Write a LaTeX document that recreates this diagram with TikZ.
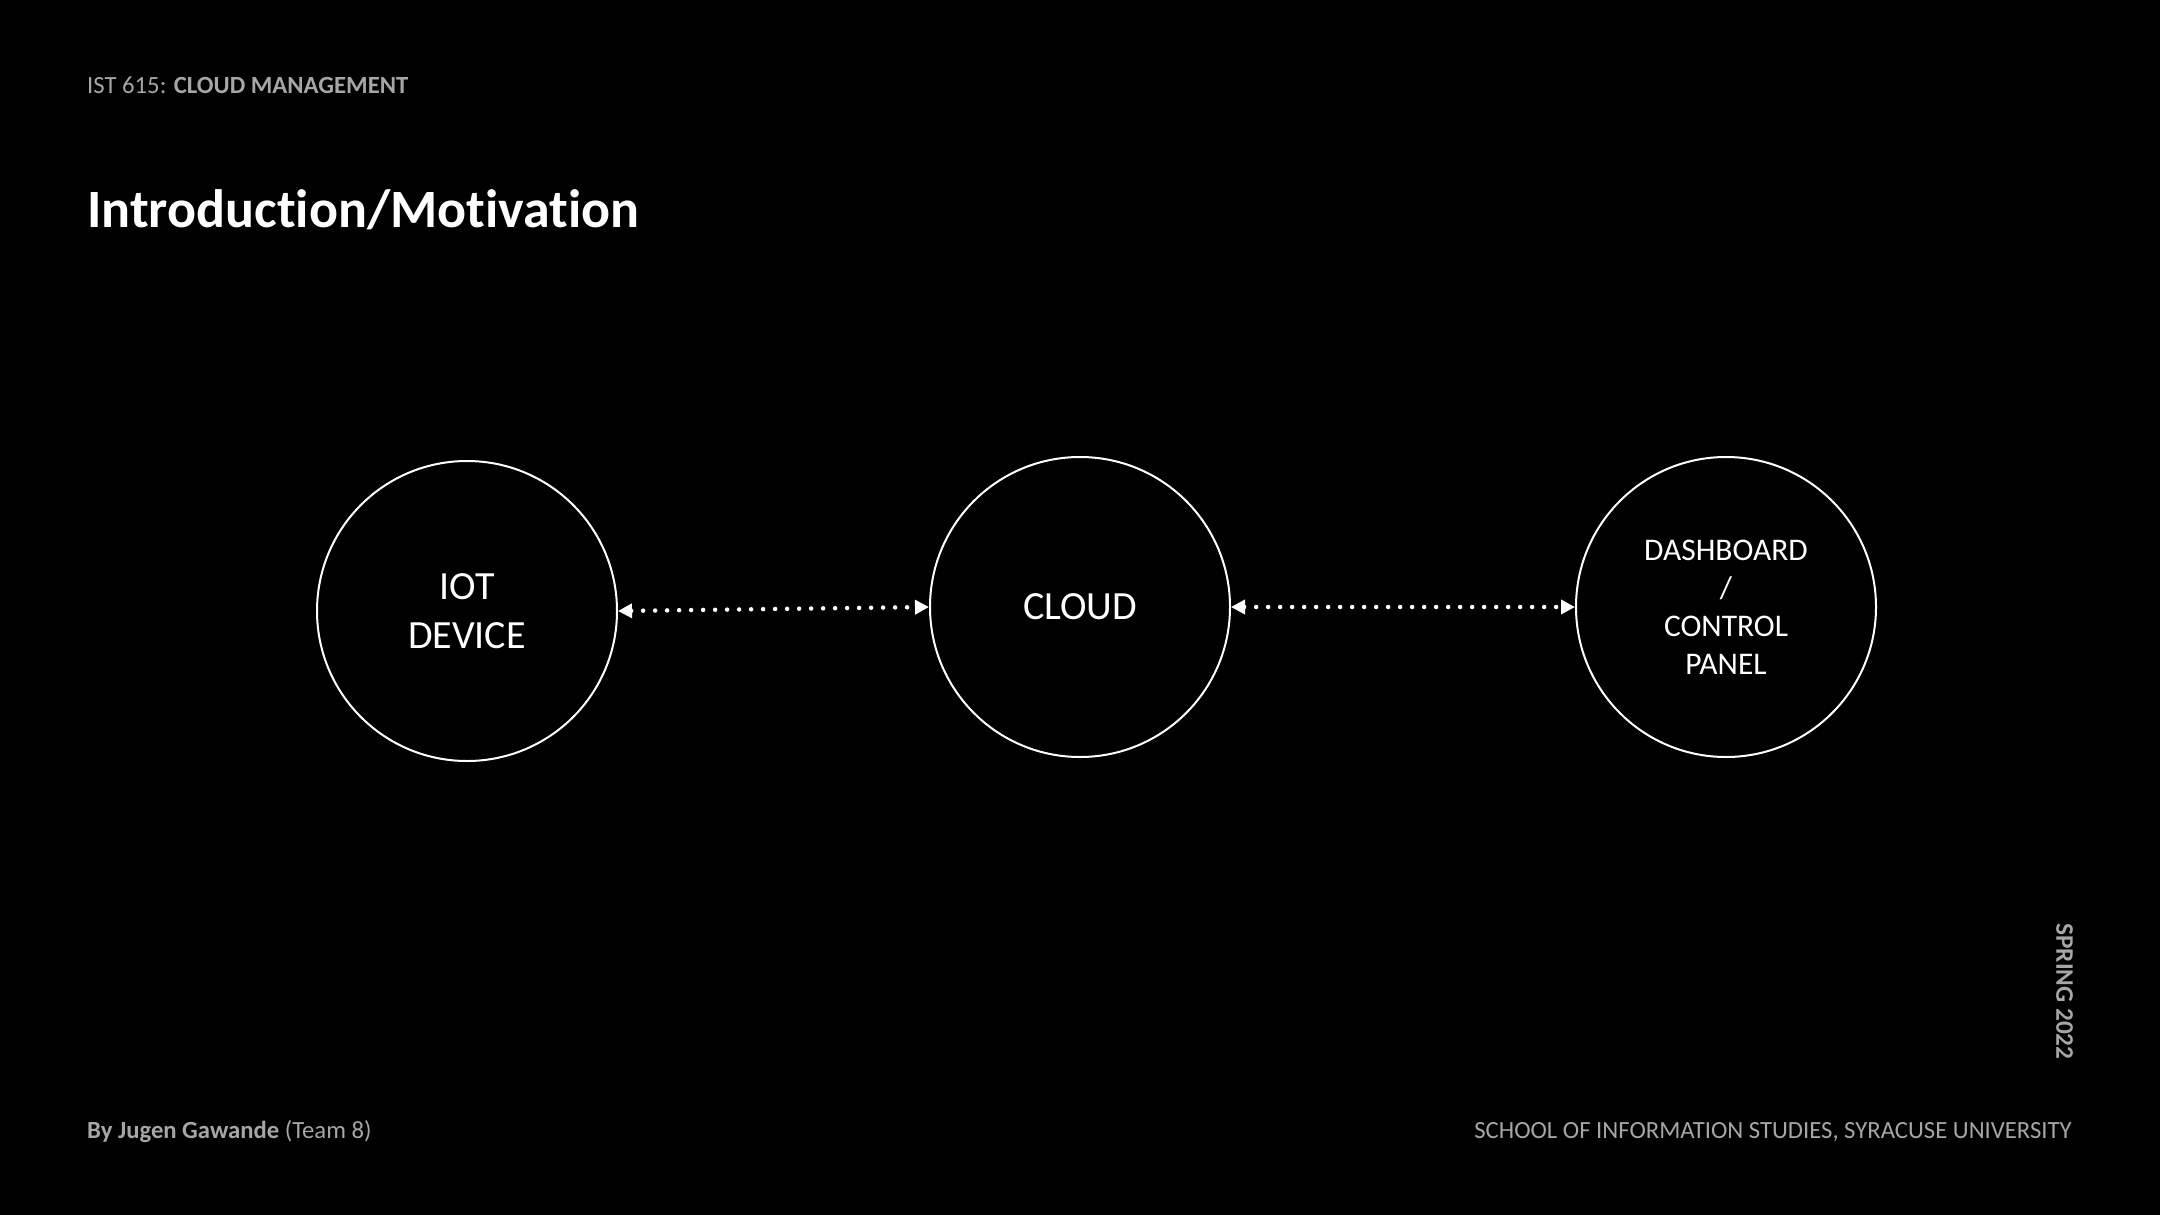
\documentclass[tikz,border=0pt]{standalone}
\usepackage{fontspec}
\setmainfont{Carlito}[Ligatures=NoCommon]
\usetikzlibrary{arrows.meta}
\definecolor{txtgray}{RGB}{166,166,166}
\tikzset{
  bubble/.style={circle, draw=white, line width=2pt, minimum size=300pt, inner sep=0pt, text=white, align=center},
  bigtxt/.style={font=\fontsize{40}{49}\selectfont},
  smalltxt/.style={font=\fontsize{31.5}{38}\selectfont},
  link/.style={white, line width=4.5pt, line cap=round, dash pattern=on 0pt off 12pt,
    {Triangle[length=14pt,width=14pt]}-{Triangle[length=14pt,width=14pt]}},
  meta/.style={text=txtgray, inner sep=0pt, font=\fontsize{24.7}{30}\selectfont}
}
\begin{document}
\begin{tikzpicture}[x=1pt,y=-1pt]
\fill[black] (0,0) rectangle (2160,1215);
\useasboundingbox (0,0) rectangle (2160,1215);
\node[meta, anchor=base west] (hdr) at (87,93) {IST 615: \textbf{CLOUD MANAGEMENT}};
\node[text=white, inner sep=0pt, anchor=base west, font=\fontsize{54}{64}\selectfont\bfseries] (title) at (87,227) {Introduction/Motivation};
\node[bubble, bigtxt] (iot) at (467,611) {IOT\\DEVICE};
\node[bubble, bigtxt] (cloud) at (1080,607) {CLOUD};
\node[bubble, smalltxt] (dash) at (1726,607) {DASHBOARD\\/\\CONTROL\\PANEL};
\draw[link] (iot.east) -- (cloud.west);
\draw[link] (cloud.east) -- (dash.west);
\node[meta, anchor=base west] (author) at (87,1138) {\textbf{By Jugen Gawande} (Team 8)};
\node[meta, anchor=base east] (school) at (2072,1138) {SCHOOL OF INFORMATION STUDIES, SYRACUSE UNIVERSITY};
\node[meta, rotate=-90, font=\fontsize{25.3}{30}\selectfont\bfseries] (term) at (2064.5,991.5) {SPRING 2022};
\end{tikzpicture}
\end{document}
